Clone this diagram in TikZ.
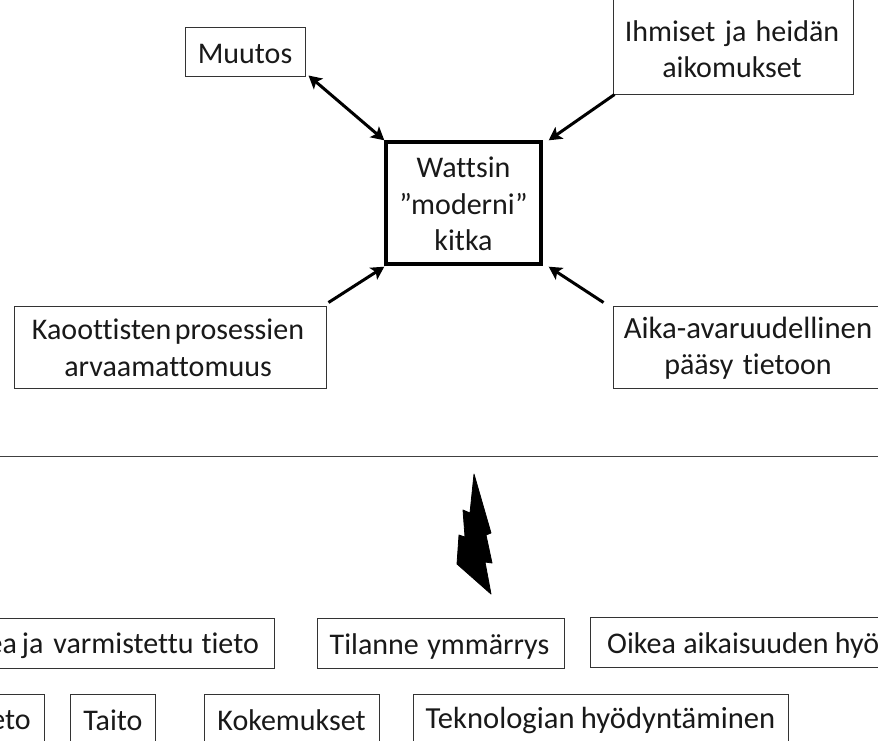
\documentclass[tikz,border=0pt]{standalone}
\usepackage{fontspec}
\setmainfont[Ligatures=NoCommon,WordSpace=0.35]{Carlito}
\usetikzlibrary{calc,arrows.meta}
\tikzset{
 box/.style={draw=black!80,line width=1pt,fill=white,inner sep=0pt},
 mainbox/.style={box,draw=black,line width=3.4pt},
 lab/.style={inner sep=0pt,align=center,text=black!90,font=\fontsize{30}{36.5}\selectfont},
 conn/.style={line width=3pt,draw=black,-{Stealth[length=13pt,width=14pt,inset=3pt]}},
 both/.style={conn,{Stealth[length=13pt,width=14pt,inset=3pt]}-{Stealth[length=13pt,width=14pt,inset=3pt]}},
 bolt/.style={fill=black,draw=black,line width=0.8pt,line join=round}
}
\begin{document}
\begin{tikzpicture}[x=1pt,y=-1pt]
\useasboundingbox (0,0) rectangle (878,740);
\clip (0,0) rectangle (878,740);
\node[box,minimum width=120pt,minimum height=49pt] (muutos) at (245,51.5) {};
\node[lab] (muutos-t) at (245,54) {Muutos};
\node[box,minimum width=240pt,minimum height=98pt] (ihmiset) at (733,45) {};
\node[lab] (ihmiset-t) at (732,49) {Ihmiset\kern7pt\ ja\kern7pt\ heidän\\aikomukset};
\node[mainbox,minimum width=155pt,minimum height=122pt] (wat) at (463.5,203) {};
\node[lab] (wat-t) at (463.5,204) {Wattsin\\”moderni”\\kitka};
\node[box,minimum width=312pt,minimum height=82pt] (kao) at (170,347) {};
\node[lab] (kao-t) at (168,348) {Kaoottisten\kern1pt\ prosessien\\arvaamattomuus};
\node[box,minimum width=290pt,minimum height=82pt] (aika) at (758,347) {};
\node[lab] (aika-t) at (748,348) {{\fontsize{30.8}{36.5}\selectfont Aika-avaruudellinen}\\pääsy\kern7pt\ tietoon};
\draw[line width=1pt,draw=black!75] (0,456) coordinate (la) -- (878,456) coordinate (lb);
\draw[bolt] (474,474) -- (491,533) -- (486,535) -- (492,563) -- (485,562) -- (491,594) -- (457,564) -- (459,535) -- (465,537) -- (463,510) -- (470,513) -- cycle;
\node[box,minimum width=294pt,minimum height=50pt] (oikea) at (127.5,643) {};
\node[lab,anchor=east] (oikea-t) at (259,646) {ea\kern2.6pt\ ja\kern7.6pt\ varmistettu\kern5.6pt\ tieto};
\node[box,minimum width=247pt,minimum height=50pt] (tilanne) at (441,643) {};
\node[lab] (tilanne-t) at (439.5,646) {Tilanne\kern6pt\ ymmärrys};
\node[box,minimum width=310pt,minimum height=50pt] (aikaisuus) at (745,642) {};
\node[lab,anchor=west] (aikaisuus-t) at (607,645) {Oikea\kern5pt\ aikaisuuden\kern4pt\ hyö};
\node[box,minimum width=64pt,minimum height=48pt] (tieto) at (12,718) {};
\node[lab,anchor=east] (tieto-t) at (31,720) {eto};
\node[box,minimum width=85pt,minimum height=48pt] (taito) at (112.5,718) {};
\node[lab] (taito-t) at (113,720) {Taito};
\node[box,minimum width=175pt,minimum height=48pt] (koke) at (291.5,718) {};
\node[lab] (koke-t) at (291.5,720) {Kokemukset};
\node[box,minimum width=375pt,minimum height=48pt] (tekno) at (600.5,718) {};
\node[lab] (tekno-t) at (600.5,720) {\fontsize{30.6}{36.5}\selectfont Teknologian\kern4pt\ hyödyntäminen};
\draw[both] ($(muutos.south east)+(3,-1)$) -- ($(wat.north west)+(0,0)$);
\draw[conn] ($(ihmiset.south west)+(2,0)$) -- ($(wat.north east)+(6,0)$);
\draw[conn] ($(kao.north east)+(2,-3)$) -- ($(wat.south west)+(0,1)$);
\draw[conn] ($(aika.north west)+(-9,-3)$) -- ($(wat.south east)+(6,1)$);
\end{tikzpicture}
\end{document}
